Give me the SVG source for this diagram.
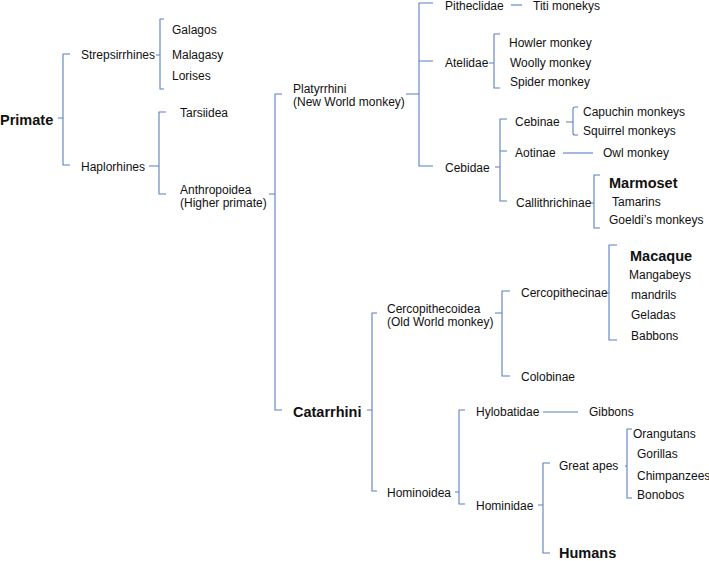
<svg xmlns="http://www.w3.org/2000/svg" width="709" height="561" viewBox="0 0 709 561">
<style>
text{font-family:"Liberation Sans",Arial,sans-serif;font-size:12px;fill:#111}
.b{font-weight:bold;font-size:14.5px}
.c path{fill:none;stroke:#5b7fc2;stroke-width:1.1;stroke-linejoin:round}
</style>
<rect width="709" height="561" fill="#fff"/>
<g class="c" id="connectors">
<path d="M58,118H63M70,54H63V165H70"/>
<path d="M156,55H160M164,19H160V89H164"/>
<path d="M149,166H159M166,112H159V194H166"/>
<path d="M269,194H275M282,94H275V410H282"/>
<path d="M406,94H419M433,3H419V166H433M419,61H433"/>
<path d="M511,5H522"/>
<path d="M489,63H494M500,34H494V88H500"/>
<path d="M495,167H500M507,119H500V201H507M500,151H507"/>
<path d="M566,122H573M578,107H575Q573,107 573,109V133Q573,135 575,135H578"/>
<path d="M563,153H593"/>
<path d="M590,203H594M600,175H594V228H600"/>
<path d="M367,410H372M377,313H372V491H377"/>
<path d="M495,313H502M510,291H502V376H510"/>
<path d="M605,293H609M617,245H609V340H617"/>
<path d="M455,492H459M465,410H459V504H465"/>
<path d="M543,412H578"/>
<path d="M538,505H543M550,463H543V553H550"/>
<path d="M625,466H627M632,429H627V498H632"/>
</g>
<g id="primate"><text class="b" x="0" y="125">Primate</text></g>
<g id="strepsirrhines"><text x="81" y="59">Strepsirrhines</text></g>
<g id="haplorhines"><text x="81" y="171">Haplorhines</text></g>
<g id="galagos"><text x="172" y="34">Galagos</text></g>
<g id="malagasy"><text x="172" y="59">Malagasy</text></g>
<g id="lorises"><text x="172" y="80">Lorises</text></g>
<g id="tarsiidea"><text x="180" y="117">Tarsiidea</text></g>
<g id="anthropoidea"><text x="180" y="194">Anthropoidea</text><text x="180" y="207">(Higher primate)</text></g>
<g id="platyrrhini"><text x="293" y="93">Platyrrhini</text><text x="293" y="106">(New World monkey)</text></g>
<g id="pitheclidae"><text x="445" y="10">Pitheclidae</text></g>
<g id="titi"><text x="533" y="10">Titi monekys</text></g>
<g id="atelidae"><text x="445" y="67">Atelidae</text></g>
<g id="howler"><text x="509" y="47">Howler monkey</text></g>
<g id="woolly"><text x="510" y="67">Woolly monkey</text></g>
<g id="spider"><text x="510" y="86">Spider monkey</text></g>
<g id="cebidae"><text x="445" y="172">Cebidae</text></g>
<g id="cebinae"><text x="515" y="126">Cebinae</text></g>
<g id="capuchin"><text x="583" y="116">Capuchin monkeys</text></g>
<g id="squirrel"><text x="583" y="135">Squirrel monkeys</text></g>
<g id="aotinae"><text x="515" y="157">Aotinae</text></g>
<g id="owl"><text x="603" y="157">Owl monkey</text></g>
<g id="callithrichinae"><text x="516" y="207">Callithrichinae</text></g>
<g id="marmoset"><text class="b" x="609" y="188">Marmoset</text></g>
<g id="tamarins"><text x="612" y="206">Tamarins</text></g>
<g id="goeldi"><text x="609" y="224">Goeldi’s monkeys</text></g>
<g id="catarrhini"><text class="b" x="293" y="417">Catarrhini</text></g>
<g id="cercopithecoidea"><text x="387" y="313">Cercopithecoidea</text><text x="387" y="326">(Old World monkey)</text></g>
<g id="hominoidea"><text x="387" y="497">Hominoidea</text></g>
<g id="cercopithecinae"><text x="521" y="297">Cercopithecinae</text></g>
<g id="colobinae"><text x="521" y="381">Colobinae</text></g>
<g id="macaque"><text class="b" x="630" y="261">Macaque</text></g>
<g id="mangabeys"><text x="629" y="279">Mangabeys</text></g>
<g id="mandrils"><text x="631" y="299">mandrils</text></g>
<g id="geladas"><text x="631" y="319">Geladas</text></g>
<g id="babbons"><text x="631" y="340">Babbons</text></g>
<g id="hylobatidae"><text x="476" y="416">Hylobatidae</text></g>
<g id="gibbons"><text x="589" y="416">Gibbons</text></g>
<g id="hominidae"><text x="476" y="510">Hominidae</text></g>
<g id="greatapes"><text x="559" y="470">Great apes</text></g>
<g id="orangutans"><text x="633" y="438">Orangutans</text></g>
<g id="gorillas"><text x="637" y="458">Gorillas</text></g>
<g id="chimpanzees"><text x="637" y="480">Chimpanzees</text></g>
<g id="bonobos"><text x="637" y="499">Bonobos</text></g>
<g id="humans"><text class="b" x="559" y="558">Humans</text></g>
</svg>
